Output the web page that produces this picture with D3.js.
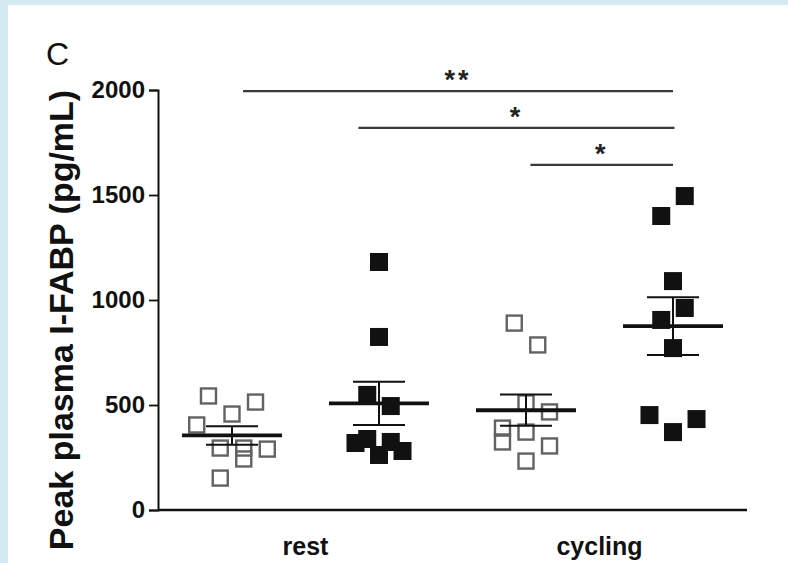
<!DOCTYPE html>
<html>
<head>
<meta charset="utf-8">
<script src="https://cdn.jsdelivr.net/npm/d3@7"></script>
<style>
  body { margin: 0; background: #d5ebf3; }
  svg { display: block; }
</style>
</head>
<body>
<div id="chart"></div>
<script>
// peak plasma I-FABP, pg/mL, one array per group (open = hollow squares, filled = solid squares)
const conditions = ["rest", "cycling"];
const groupKeys = ["restOpen", "restFilled", "cyclingOpen", "cyclingFilled"];

const restOpen      = [543, 514, 457, 405, 295, 295, 243, 290, 152];
const restFilled    = [1181, 824, 548, 495, 319, 338, 262, 324, 281];
const cyclingOpen   = [890, 786, 510, 467, 390, 324, 371, 305, 233];
const cyclingFilled = [1495, 1400, 1090, 962, 905, 771, 452, 371, 433];

// horizontal scatter slot of each point
const restOpenSlot      = [-2, 2, 0, -3, -1, 1, 1, 3, -1];
const restFilledSlot    = [0, 0, -1, 1, -2, -1, 0, 1, 2];
const cyclingOpenSlot   = [-1, 1, 0, 2, -2, -2, 0, 2, 0];
const cyclingFilledSlot = [1, -1, 0, 1, -1, 0, -2, 0, 2];

const yTicks = [0, 500, 1000, 1500, 2000];

// significance bars: from/to in group units, level in pg/mL
const sigFrom  = [0.075, 0.86, 2.03];
const sigTo    = [3.0, 3.01, 3.0];
const sigLevel = [1995, 1820, 1643];
const sigLabel = ["**", "*", "*"];

const W = 788, H = 563;

const svg = d3.select("#chart").append("svg")
    .attr("width", W)
    .attr("height", H);

// white panel
svg.append("rect")
    .attr("x", 8).attr("y", 5)
    .attr("width", W - 8).attr("height", H - 5)
    .attr("fill", "#ffffff");

const y = d3.scaleLinear().domain([0, 2000]).range([510, 90]);
const x = d3.scaleLinear().domain([0, 3]).range([232, 673]);
const slotW = 0.08;  // group units per scatter slot

const groups = [
    {values: restOpen, slots: restOpenSlot, filled: false},
    {values: restFilled, slots: restFilledSlot, filled: true},
    {values: cyclingOpen, slots: cyclingOpenSlot, filled: false},
    {values: cyclingFilled, slots: cyclingFilledSlot, filled: true}
];

const axisX = 158;

// y axis
const yAxis = svg.append("g")
    .attr("transform", `translate(${axisX},0)`)
    .call(d3.axisLeft(y).tickValues(yTicks).tickFormat(d3.format("d"))
        .tickSizeOuter(0).tickSize(9).tickPadding(4));
yAxis.select(".domain").attr("stroke", "#111").attr("stroke-width", 2);
yAxis.selectAll(".tick line").attr("stroke", "#111").attr("stroke-width", 1.8);
yAxis.selectAll(".tick text")
    .attr("font-family", "Liberation Sans, Arial, sans-serif")
    .attr("font-weight", "bold")
    .attr("font-size", 24)
    .attr("fill", "#111");

// x axis line
svg.append("line")
    .attr("x1", axisX).attr("x2", 747)
    .attr("y1", y(0)).attr("y2", y(0))
    .attr("stroke", "#111").attr("stroke-width", 2.6);

// category labels, centred between their two groups
svg.selectAll(".cat")
    .data(conditions)
    .join("text")
    .attr("class", "cat")
    .attr("x", (d, i) => x(i * 2 + 0.5))
    .attr("y", 555)
    .attr("text-anchor", "middle")
    .attr("font-family", "Liberation Sans, Arial, sans-serif")
    .attr("font-weight", "bold")
    .attr("font-size", 25)
    .attr("fill", "#111")
    .text(d => d);

// y axis title
svg.append("text")
    .attr("transform", "translate(73,320) rotate(-90)")
    .attr("text-anchor", "middle")
    .attr("font-family", "Liberation Sans, Arial, sans-serif")
    .attr("font-weight", "bold")
    .attr("font-size", 34)
    .attr("fill", "#111")
    .text("Peak plasma I-FABP (pg/mL)");

// panel letter
svg.append("text")
    .attr("x", 46).attr("y", 65)
    .attr("font-family", "Liberation Sans, Arial, sans-serif")
    .attr("font-size", 32)
    .attr("fill", "#111")
    .text("C");

// points
groups.forEach((g, gi) => {
    const pts = g.values.map((v, i) => ({v: v, s: g.slots[i]}));
    const size = g.filled ? 18 : 15;
    svg.append("g").selectAll("rect")
        .data(pts)
        .join("rect")
        .attr("x", d => x(gi + d.s * slotW) - size / 2)
        .attr("y", d => y(d.v) - size / 2)
        .attr("width", size)
        .attr("height", size)
        .attr("fill", g.filled ? "#111" : "none")
        .attr("stroke", g.filled ? "none" : "#626262")
        .attr("stroke-width", 2.4);
});

// mean +- SEM
const meanHalf = 0.34, capHalf = 0.177;
groups.forEach((g, gi) => {
    const m = d3.mean(g.values);
    const sem = d3.deviation(g.values) / Math.sqrt(g.values.length);
    const eg = svg.append("g").attr("stroke", "#111");
    eg.append("line")
        .attr("x1", x(gi)).attr("x2", x(gi))
        .attr("y1", y(m + sem)).attr("y2", y(m - sem))
        .attr("stroke-width", 2);
    [m + sem, m - sem].forEach(v => {
        eg.append("line")
            .attr("x1", x(gi - capHalf)).attr("x2", x(gi + capHalf))
            .attr("y1", y(v)).attr("y2", y(v))
            .attr("stroke-width", 2);
    });
    eg.append("line")
        .attr("x1", x(gi - meanHalf)).attr("x2", x(gi + meanHalf))
        .attr("y1", y(m)).attr("y2", y(m))
        .attr("stroke-width", 3.8);
});

// significance bars
sigLevel.forEach((lv, i) => {
    svg.append("line")
        .attr("x1", x(sigFrom[i])).attr("x2", x(sigTo[i]))
        .attr("y1", y(lv)).attr("y2", y(lv))
        .attr("stroke", "#3a3a3a").attr("stroke-width", 2.2);
    svg.append("text")
        .attr("x", (x(sigFrom[i]) + x(sigTo[i])) / 2)
        .attr("y", y(lv) - 2)
        .attr("text-anchor", "middle")
        .attr("font-family", "Liberation Sans, Arial, sans-serif")
        .attr("font-weight", "bold")
        .attr("font-size", 27)
        .attr("letter-spacing", 3)
        .attr("fill", "#222")
        .text(sigLabel[i]);
});
</script>
</body>
</html>
